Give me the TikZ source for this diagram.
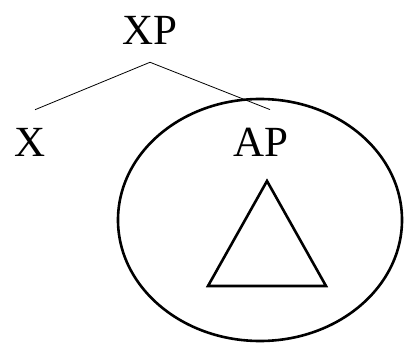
\documentclass[tikz,border=0pt]{standalone}
\usepackage{fontspec}
\setmainfont{Liberation Serif}
\usetikzlibrary{shapes.geometric}

\begin{document}
\begin{tikzpicture}[
  x=1pt, y=-1pt,
  cat/.style={font=\fontsize{43}{48}\selectfont, inner xsep=0pt, inner ysep=18pt},
  branch/.style={line width=0.8pt},
  bold/.style={line width=2.6pt}
]
\useasboundingbox (0,0) rectangle (404,344);
\node[cat] (xp) at (150,30) {XP};
\node[cat] (x) at (30,142) {X};
\node[cat] (ap) at (261,142) {AP};

\draw[branch] (xp.south) -- ([xshift=5pt]x.north);
\draw[branch] (xp.south) -- ([xshift=9pt]ap.north);

\node[draw, bold, ellipse, minimum width=284pt, minimum height=242pt, inner sep=0pt] (circ) at (260,220) {};
\draw[bold, line join=miter] (267,181) -- (208,286) -- (326,286) -- cycle;
\end{tikzpicture}
\end{document}
